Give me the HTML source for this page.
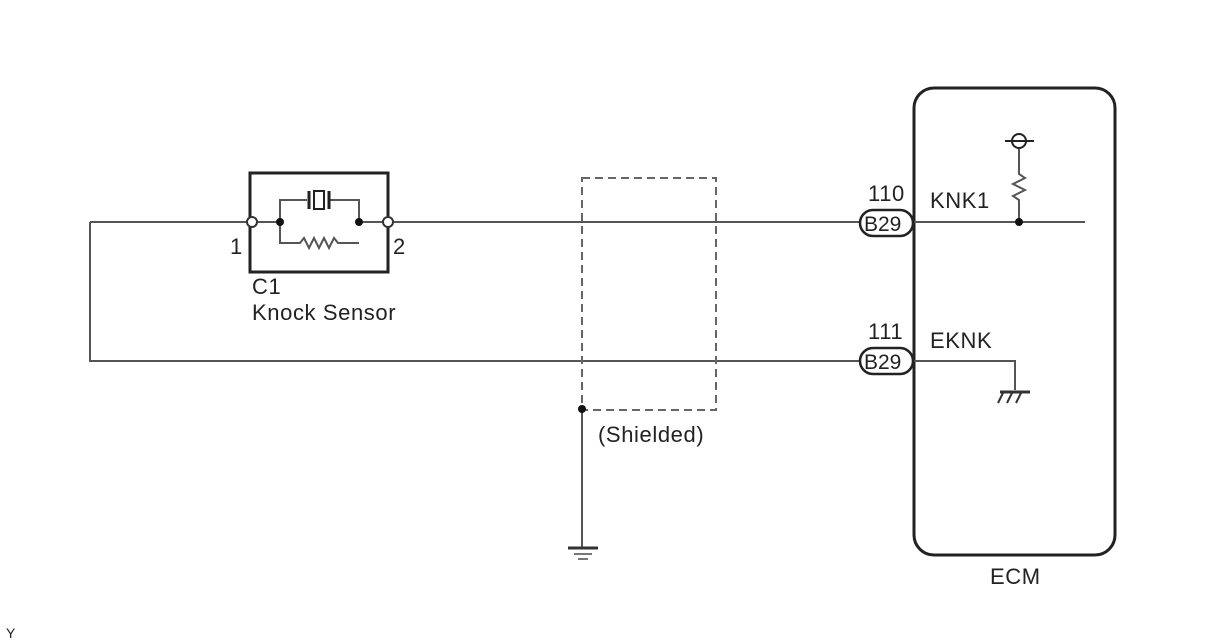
<!DOCTYPE html>
<html><head><style>body{margin:0;background:#fff}svg{display:block}text{font-family:"Liberation Sans",sans-serif;fill:#222}</style></head><body>
<svg width="1208" height="644" viewBox="0 0 1208 644" xmlns="http://www.w3.org/2000/svg">
<g stroke="#555" stroke-width="2" fill="none">
<path d="M90 222H252M90 222V361H862M388 222H862"/>
<rect x="582" y="178" width="134" height="232" stroke-dasharray="8,5" stroke="#666"/>
<path d="M582 409V548"/>
<path d="M568 548H598" stroke="#333" stroke-width="3"/>
<path d="M574 554H592M578 559H588" stroke="#777"/>
<rect x="250" y="173" width="138" height="99" stroke="#222" stroke-width="3"/>
<path d="M252 222H280V200H307M330 200H359V222H388M280 222V243H300l4-5 5 10 5-10 5 10 5-10 5 10 5-10 4 5H359V243"/>
<path d="M309 191V209M329 191V209" stroke="#222" stroke-width="3"/>
<rect x="314" y="191" width="10" height="18" stroke="#222"/>
<rect x="914" y="88" width="201" height="467" rx="20" stroke="#222" stroke-width="3"/>
<path d="M914 222H1085M1019 222V200l-6-4 12-6-12-6 12-6-6-4V148M914 361H1015V390"/>
<path d="M1000 392H1030" stroke="#333" stroke-width="3"/>
<path d="M1003 393l-5 10M1012 393l-5 10M1021 393l-5 10" stroke="#333"/>
<circle cx="1019" cy="141" r="7" stroke="#222"/>
<path d="M1005 141H1034" stroke="#222"/>
</g>
<circle cx="252" cy="222" r="5" fill="#fff" stroke="#333" stroke-width="2"/>
<circle cx="388" cy="222" r="5" fill="#fff" stroke="#333" stroke-width="2"/>
<circle cx="280" cy="222" r="4" fill="#111"/>
<circle cx="359" cy="222" r="4" fill="#111"/>
<circle cx="1019" cy="222" r="4" fill="#111"/>
<circle cx="582" cy="409" r="4" fill="#111"/>
<rect x="860" y="210" width="53" height="26" rx="13" fill="#fff" stroke="#222" stroke-width="2.5"/>
<rect x="860" y="348" width="53" height="26" rx="13" fill="#fff" stroke="#222" stroke-width="2.5"/>
<g font-size="22" letter-spacing="0.6">
<text x="864" y="231" font-size="21" letter-spacing="0">B29</text><text x="864" y="369" font-size="21" letter-spacing="0">B29</text>
<text x="868" y="201">110</text><text x="868" y="339">111</text>
<text x="930" y="208">KNK1</text><text x="930" y="348">EKNK</text>
<text x="230" y="254">1</text><text x="393" y="254">2</text>
<text x="252" y="294">C1</text><text x="252" y="320">Knock Sensor</text>
<text x="598" y="442">(Shielded)</text>
<text x="990" y="584">ECM</text>
</g>
<text x="6" y="638" font-size="14">Y</text>
</svg>
</body></html>
